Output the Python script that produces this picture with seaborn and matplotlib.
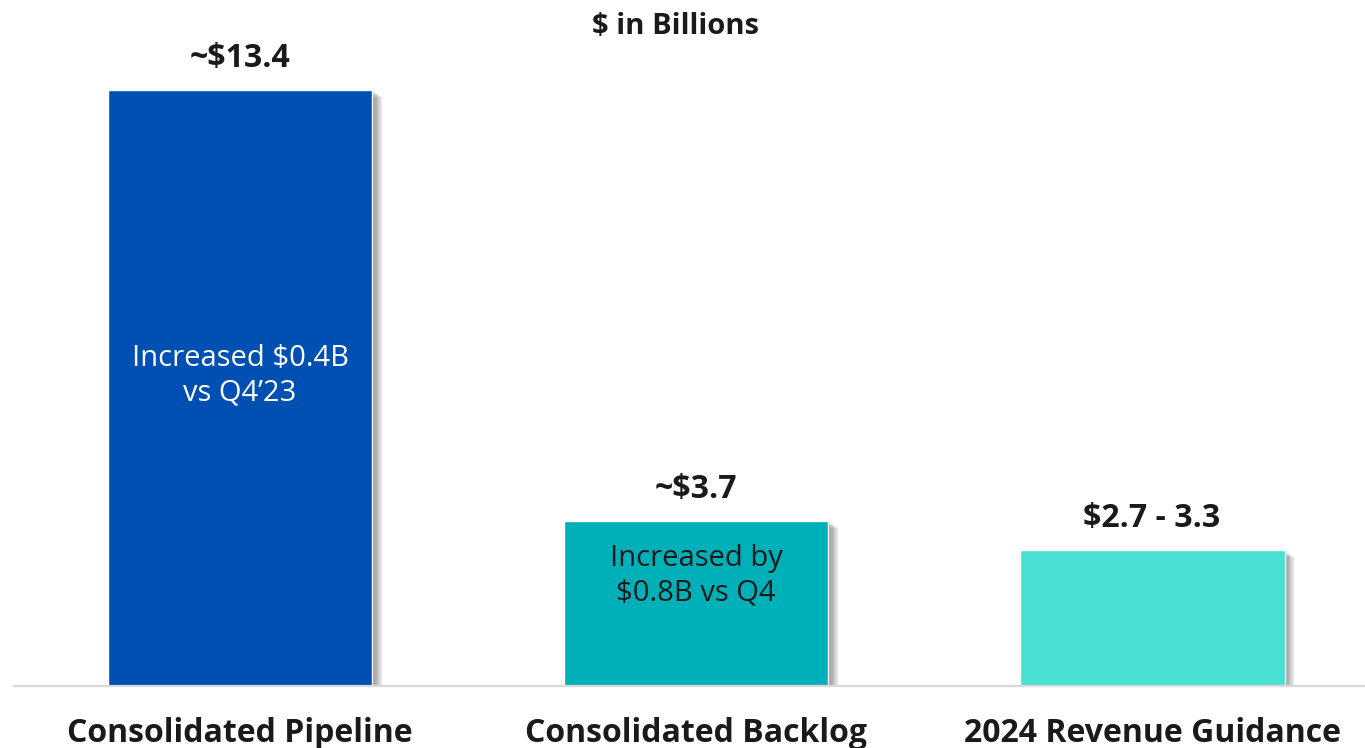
import pandas as pd
import matplotlib.pyplot as plt
import matplotlib.patheffects as pe
import seaborn as sns

# data
categories = ['Consolidated Pipeline', 'Consolidated Backlog', '2024 Revenue Guidance']
values = [13.4, 3.7, 3.05]
value_labels = ['~$13.4', '~$3.7', '$2.7 - 3.3']
inner_labels = ['Increased $0.4B\nvs Q4\u201923', 'Increased by\n$0.8B vs Q4', '']
colors = ['#0050B4', '#00B0B9', '#48E0D3']
inner_colors = ['white', '#1a1a1a', 'white']

df = pd.DataFrame({'category': categories, 'value': values})

sns.set_theme(style='white')
plt.rcParams['font.family'] = ['Open Sans', 'DejaVu Sans']

fig = plt.figure(figsize=(13.65, 7.48), dpi=100)
ax = fig.add_axes([14 / 1365, 62 / 748, 1 - 14 / 1365, 686 / 748])

sns.barplot(data=df, x='category', y='value', hue='category', palette=colors,
            width=0.581, legend=False, ax=ax, saturation=1)

# soft drop shadow, several layers
shadow = [pe.SimplePatchShadow(offset=(k, -0.7 * k), shadow_rgbFace='#666666', alpha=0.13)
          for k in range(7, 0, -1)]
for p in ax.patches:
    p.set_path_effects(shadow + [pe.Normal()])

ax.set_xlim(-0.4956, 2.467)
ax.set_ylim(0, 686 / 44.48)

# value labels above bars
for i, (v, lab) in enumerate(zip(values, value_labels)):
    ax.annotate(lab, (i, v), xytext=(0, 11), textcoords='offset points',
                ha='center', va='bottom', fontsize=23, fontweight='bold', color='#1a1a1a')

# text inside the bars
ax.text(0, values[0] * 0.52, inner_labels[0], ha='center', va='center',
        fontsize=21, color=inner_colors[0], linespacing=1.25)
ax.annotate(inner_labels[1], (1, values[1]), xytext=(0, -16), textcoords='offset points',
            ha='center', va='top', fontsize=21, color=inner_colors[1], linespacing=1.25)

ax.text((675 - 14) / 1351, 1 - 27 / 686, '$ in Billions',
        transform=ax.transAxes, ha='center', va='center', fontsize=21, fontweight='bold',
        color='#1a1a1a')

ax.set_xlabel('')
ax.set_ylabel('')
ax.set_yticks([])
ax.tick_params(axis='x', labelsize=23, pad=22, length=0)
for t in ax.get_xticklabels():
    t.set_fontweight('bold')
    t.set_color('#1a1a1a')

for s in ['top', 'right', 'left']:
    ax.spines[s].set_visible(False)
ax.spines['bottom'].set_color('#d9d9d9')
ax.spines['bottom'].set_linewidth(1.6)

fig.savefig('out.png', dpi=100)
